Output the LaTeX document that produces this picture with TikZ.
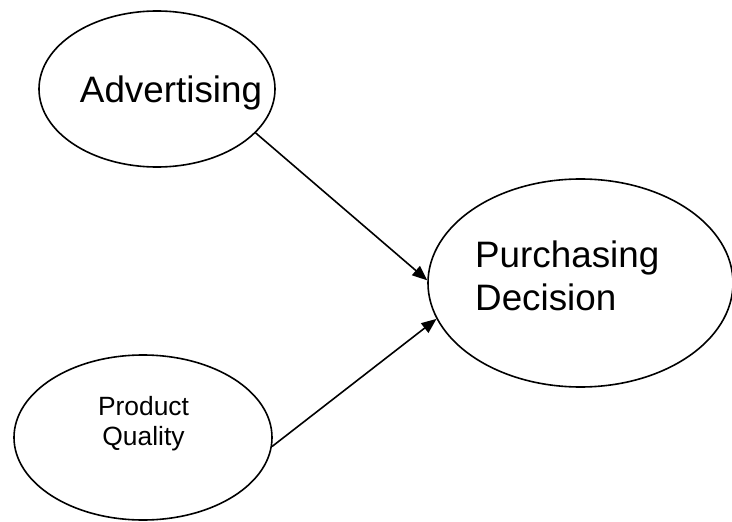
\documentclass[tikz,border=0pt]{standalone}
\usepackage{fontspec}
\setmainfont{Liberation Sans}
\usetikzlibrary{shapes.geometric,arrows.meta}
\begin{document}
\begin{tikzpicture}[x=1pt,y=-1pt,
  var/.style={draw,ellipse,line width=1.6pt,inner sep=0pt},
  word/.style={inner sep=0pt,font=\fontsize{36.8}{43}\selectfont},
  link/.style={line width=1.6pt,-{Triangle[length=15pt,width=12pt]}}]
\useasboundingbox (0,0) rectangle (732,522);
\coordinate (A) at (157,89);
\coordinate (P) at (580.5,283);
\coordinate (Q) at (143,437.5);
\node[var,minimum width=236pt,minimum height=156pt] (adv) at (A) {};
\node[var,minimum width=305pt,minimum height=208pt] (pd) at (P) {};
\node[var,minimum width=258pt,minimum height=165pt] (pq) at (Q) {};
\node[word,anchor=base] (advtext) at (171,102) {Advertising};
\node[word,anchor=base west,align=left] (pdtext) at (475,310) {Purchasing\\Decision};
\node[word,anchor=base,align=center,font=\fontsize{26.4}{30}\selectfont] (pqtext) at (143.5,445) {Product\\Quality};
\draw[link] (adv.-24) -- (pd.179);
\draw[link] (pq.-4.5) -- (pd.-166);
\end{tikzpicture}
\end{document}
